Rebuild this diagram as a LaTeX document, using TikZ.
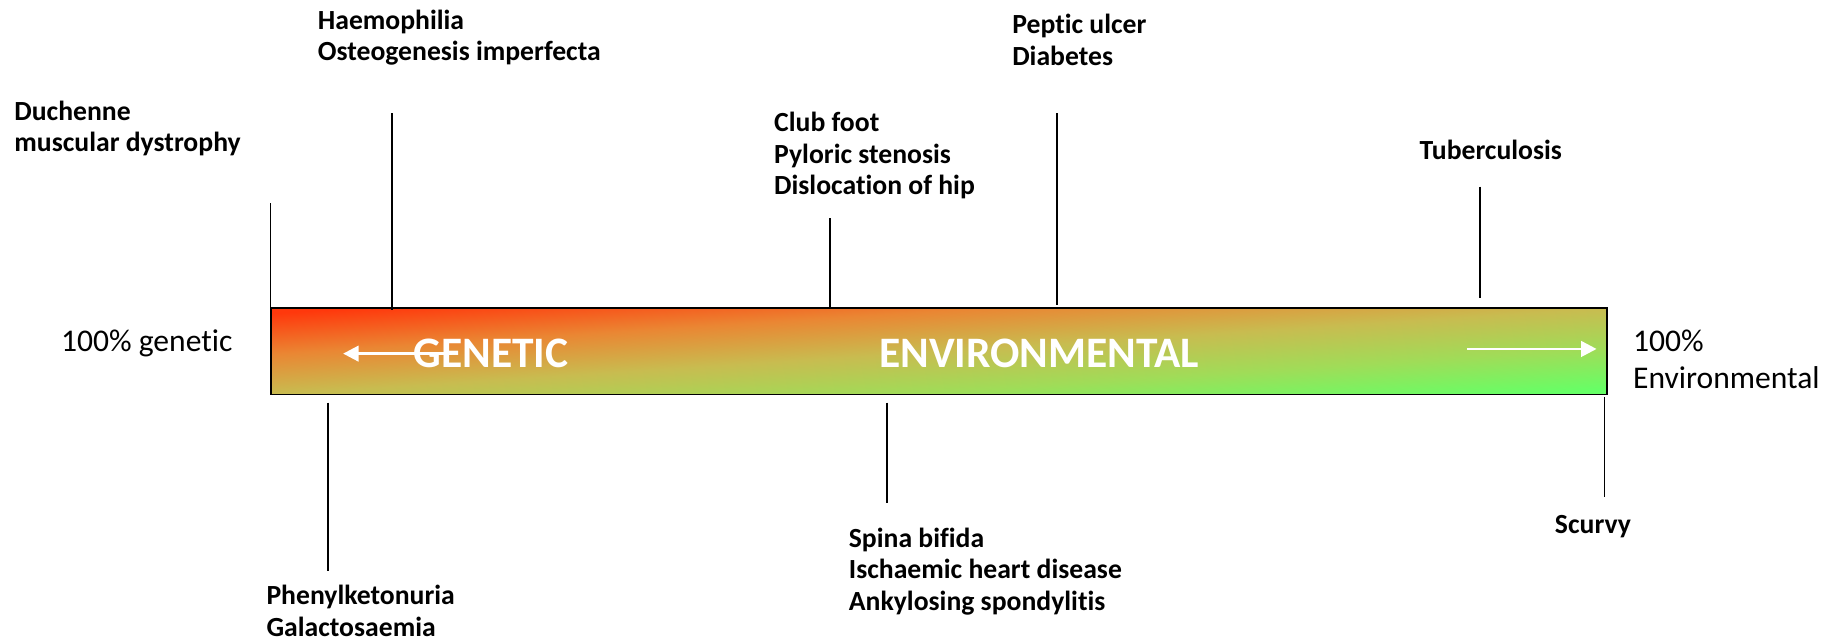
\documentclass[tikz,border=0pt]{standalone}
\usepackage{fontspec}
\setmainfont{Carlito}[Ligatures=NoCommon]
\usepackage{tikz}
\usetikzlibrary{arrows.meta}
\definecolor{barred}{HTML}{FF380C}
\definecolor{barorange}{HTML}{EA8633}
\definecolor{barkhaki}{HTML}{C8BC50}
\definecolor{barlime}{HTML}{A0DC58}
\definecolor{bargreen}{HTML}{66FF66}
\pgfdeclareverticalshading{barfade}{100bp}{color(0bp)=(bargreen); color(25bp)=(bargreen); color(37.5bp)=(barlime); color(50bp)=(barkhaki); color(62.5bp)=(barorange); color(75bp)=(barred); color(100bp)=(barred)}

\begin{document}
\begin{tikzpicture}[x=0.02cm, y=-0.02cm,
  lbl/.style={anchor=base west, inner sep=0pt, align=left, font=\fontsize{13.5}{15.4}\selectfont\bfseries},
  pct/.style={anchor=base west, inner sep=0pt, align=left, font=\fontsize{15.4}{18.1}\selectfont},
  big/.style={anchor=base west, inner sep=0pt, text=white, font=\fontsize{21.2}{25}\selectfont\bfseries},
  tick/.style={line width=0.7pt},
  wt/.style={draw=white, line width=1.3pt, -{Triangle[length=7.5pt,width=7.5pt]}}]
\useasboundingbox (0,0) rectangle (1568,548);
\node[draw=black, line width=0.9pt, shade, shading=barfade, shading angle=3.7, minimum width=22.9cm, minimum height=1.48cm, inner sep=0pt] (bar) at (804.5,301) {};

\node[lbl] (dmd) at (12,130) {Duchenne\\muscular dystrophy};
\node[lbl] (haem) at (272,52) {Haemophilia\\Osteogenesis imperfecta};
\node[lbl] (club) at (663,167) {Club foot\\Pyloric stenosis\\Dislocation of hip};
\node[lbl] (pep) at (867,56) {Peptic ulcer\\Diabetes};
\node[lbl] (tb) at (1216,137) {Tuberculosis};
\node[lbl] (pku) at (228,545) {Phenylketonuria\\Galactosaemia};
\node[lbl] (spina) at (727,523) {Spina bifida\\Ischaemic heart disease\\Ankylosing spondylitis};
\node[lbl] (scurvy) at (1332,457) {Scurvy};
\node[pct] (gen) at (52,301) {100\% genetic};
\node[pct] (env) at (1399,333) {100\%\\Environmental};
\node[big] (gword) at (354,315) {GENETIC};
\node[big] (eword) at (753,315) {ENVIRONMENTAL};

\foreach \n/\x/\ya/\yb in {dmd/232/174/264, haem/336/97/266, club/711/187/264, pep/905.5/97/261,
  tb/1268/160/255, pku/281/345/489, spina/760/345/431, scurvy/1375/340/426}{
  \coordinate (t\n) at (\x,\ya);
  \coordinate (b\n) at (\x,\yb);
  \draw[tick] (t\n) -- (b\n);}

\coordinate (gtail) at (387,303);
\coordinate (gtip) at (294,303);
\coordinate (etail) at (1257,299);
\coordinate (etip) at (1368,299);
\draw[wt] (gtail) -- (gtip);
\draw[wt] (etail) -- (etip);
\end{tikzpicture}
\end{document}
